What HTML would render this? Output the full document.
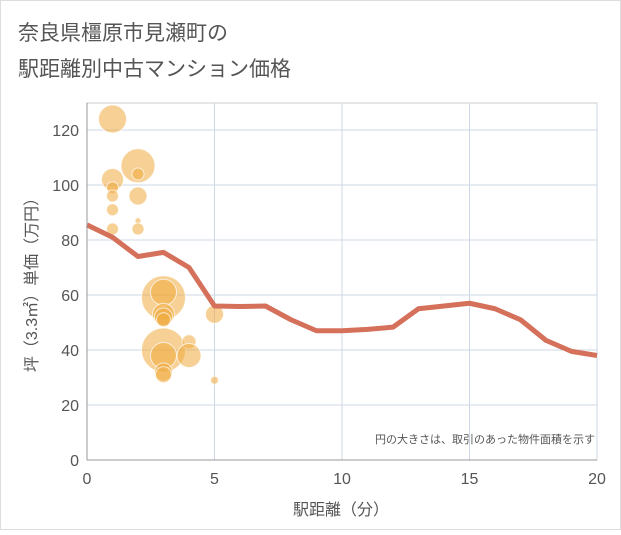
<!DOCTYPE html>
<html><head><meta charset="utf-8"><style>
body{margin:0;background:#fff;font-family:"Liberation Sans","Noto Sans CJK JP",sans-serif;}
</style></head><body>
<svg width="621" height="530" xmlns="http://www.w3.org/2000/svg" font-family="Liberation Sans, Noto Sans CJK JP, sans-serif">
<rect x="0.5" y="0.5" width="620" height="529" fill="#fff" stroke="#ddd"/>
<text x="18" y="40" font-size="21" fill="#555">奈良県橿原市見瀬町の</text>
<text x="18" y="76" font-size="21" fill="#555">駅距離別中古マンション価格</text>
<g id="grid"></g>
<g id="bubbles"></g>
<g id="line"></g>
<g id="axes"></g>
<text x="595" y="443" font-size="11" fill="#555" text-anchor="end">円の大きさは、取引のあった物件面積を示す</text>
<text x="341" y="515" font-size="16" fill="#555" text-anchor="middle">駅距離（分）</text>
<text transform="translate(37,281) rotate(-90)" font-size="16" fill="#555" text-anchor="middle">坪（3.3㎡）単価（万円）</text>
</svg>
<script>
const xTicks=[0,5,10,15,20];
const yTicks=[0,20,40,60,80,100,120];
const lineX=[0,1,2,3,4,5,6,7,8,9,10,11,12,13,14,15,16,17,18,19,20];
const lineY=[85.5,81,74,75.5,70,56,55.8,56,51,47,47,47.5,48.3,55,56,57,55,51,43.5,39.5,38];
const bubbleX=[1,1,1,1,1,1,2,2,2,2,2,3,3,3,3,3,3,3,3,3,4,4,5,5];
const bubbleY=[124,102,99,96,91,84,107,104,96,87,84,59,61,53,52,51,40,38,32,31,43,38,53,29];
const bubbleSize=[14,11,6,6,6,6,17,6,9,3,6,22,13,11,9,7,22,13,9,8,7,12,9,4];
const L=87,R=597,T=103,B=460;
const xs=v=>L+(R-L)*v/20;
const ys=v=>B-(B-130)*v/120;
const NS='http://www.w3.org/2000/svg';
function mk(t,a,p){const e=document.createElementNS(NS,t);for(const k in a)e.setAttribute(k,a[k]);p.appendChild(e);return e;}
const g=document.getElementById('grid'),ax=document.getElementById('axes');
mk('rect',{x:L,y:T,width:R-L,height:B-T,fill:'none',stroke:'#ccc'},g);
yTicks.forEach(v=>{
 const l=mk('line',{x1:L,x2:R,y1:ys(v),y2:ys(v),stroke:'#ccd8e6','stroke-width':1},g);
 
 
 const t=mk('text',{x:L-8,y:ys(v)+6,'font-size':16,fill:'#555','text-anchor':'end'},ax);
 t.textContent=v;
 
 
});
xTicks.forEach(v=>{
 const l=mk('line',{x1:xs(v),x2:xs(v),y1:T,y2:B,stroke:'#ccd8e6','stroke-width':1},g);
 
 
 const t=mk('text',{x:xs(v),y:B+24,'font-size':16,fill:'#555','text-anchor':'middle'},ax);
 t.textContent=v;
 
 
});
const al=mk('line',{x1:L,x2:L,y1:T,y2:B,stroke:'#999'},ax);


const bl=mk('line',{x1:L,x2:R,y1:B,y2:B,stroke:'#999'},ax);


const bg=document.getElementById('bubbles');
bubbleX.forEach((x,i)=>{
 const c=mk('circle',{cx:xs(x),cy:ys(bubbleY[i]),r:bubbleSize[i],fill:'rgba(238,170,60,0.55)',stroke:'rgba(255,255,255,0.7)','stroke-width':1},bg);
 
 
});
const p=mk('polyline',{points:lineX.map((x,i)=>xs(x)+','+ys(lineY[i])).join(' '),fill:'none',stroke:'#d5705a','stroke-width':5,'stroke-linejoin':'round'},document.getElementById('line'));


</script>
</body></html>
